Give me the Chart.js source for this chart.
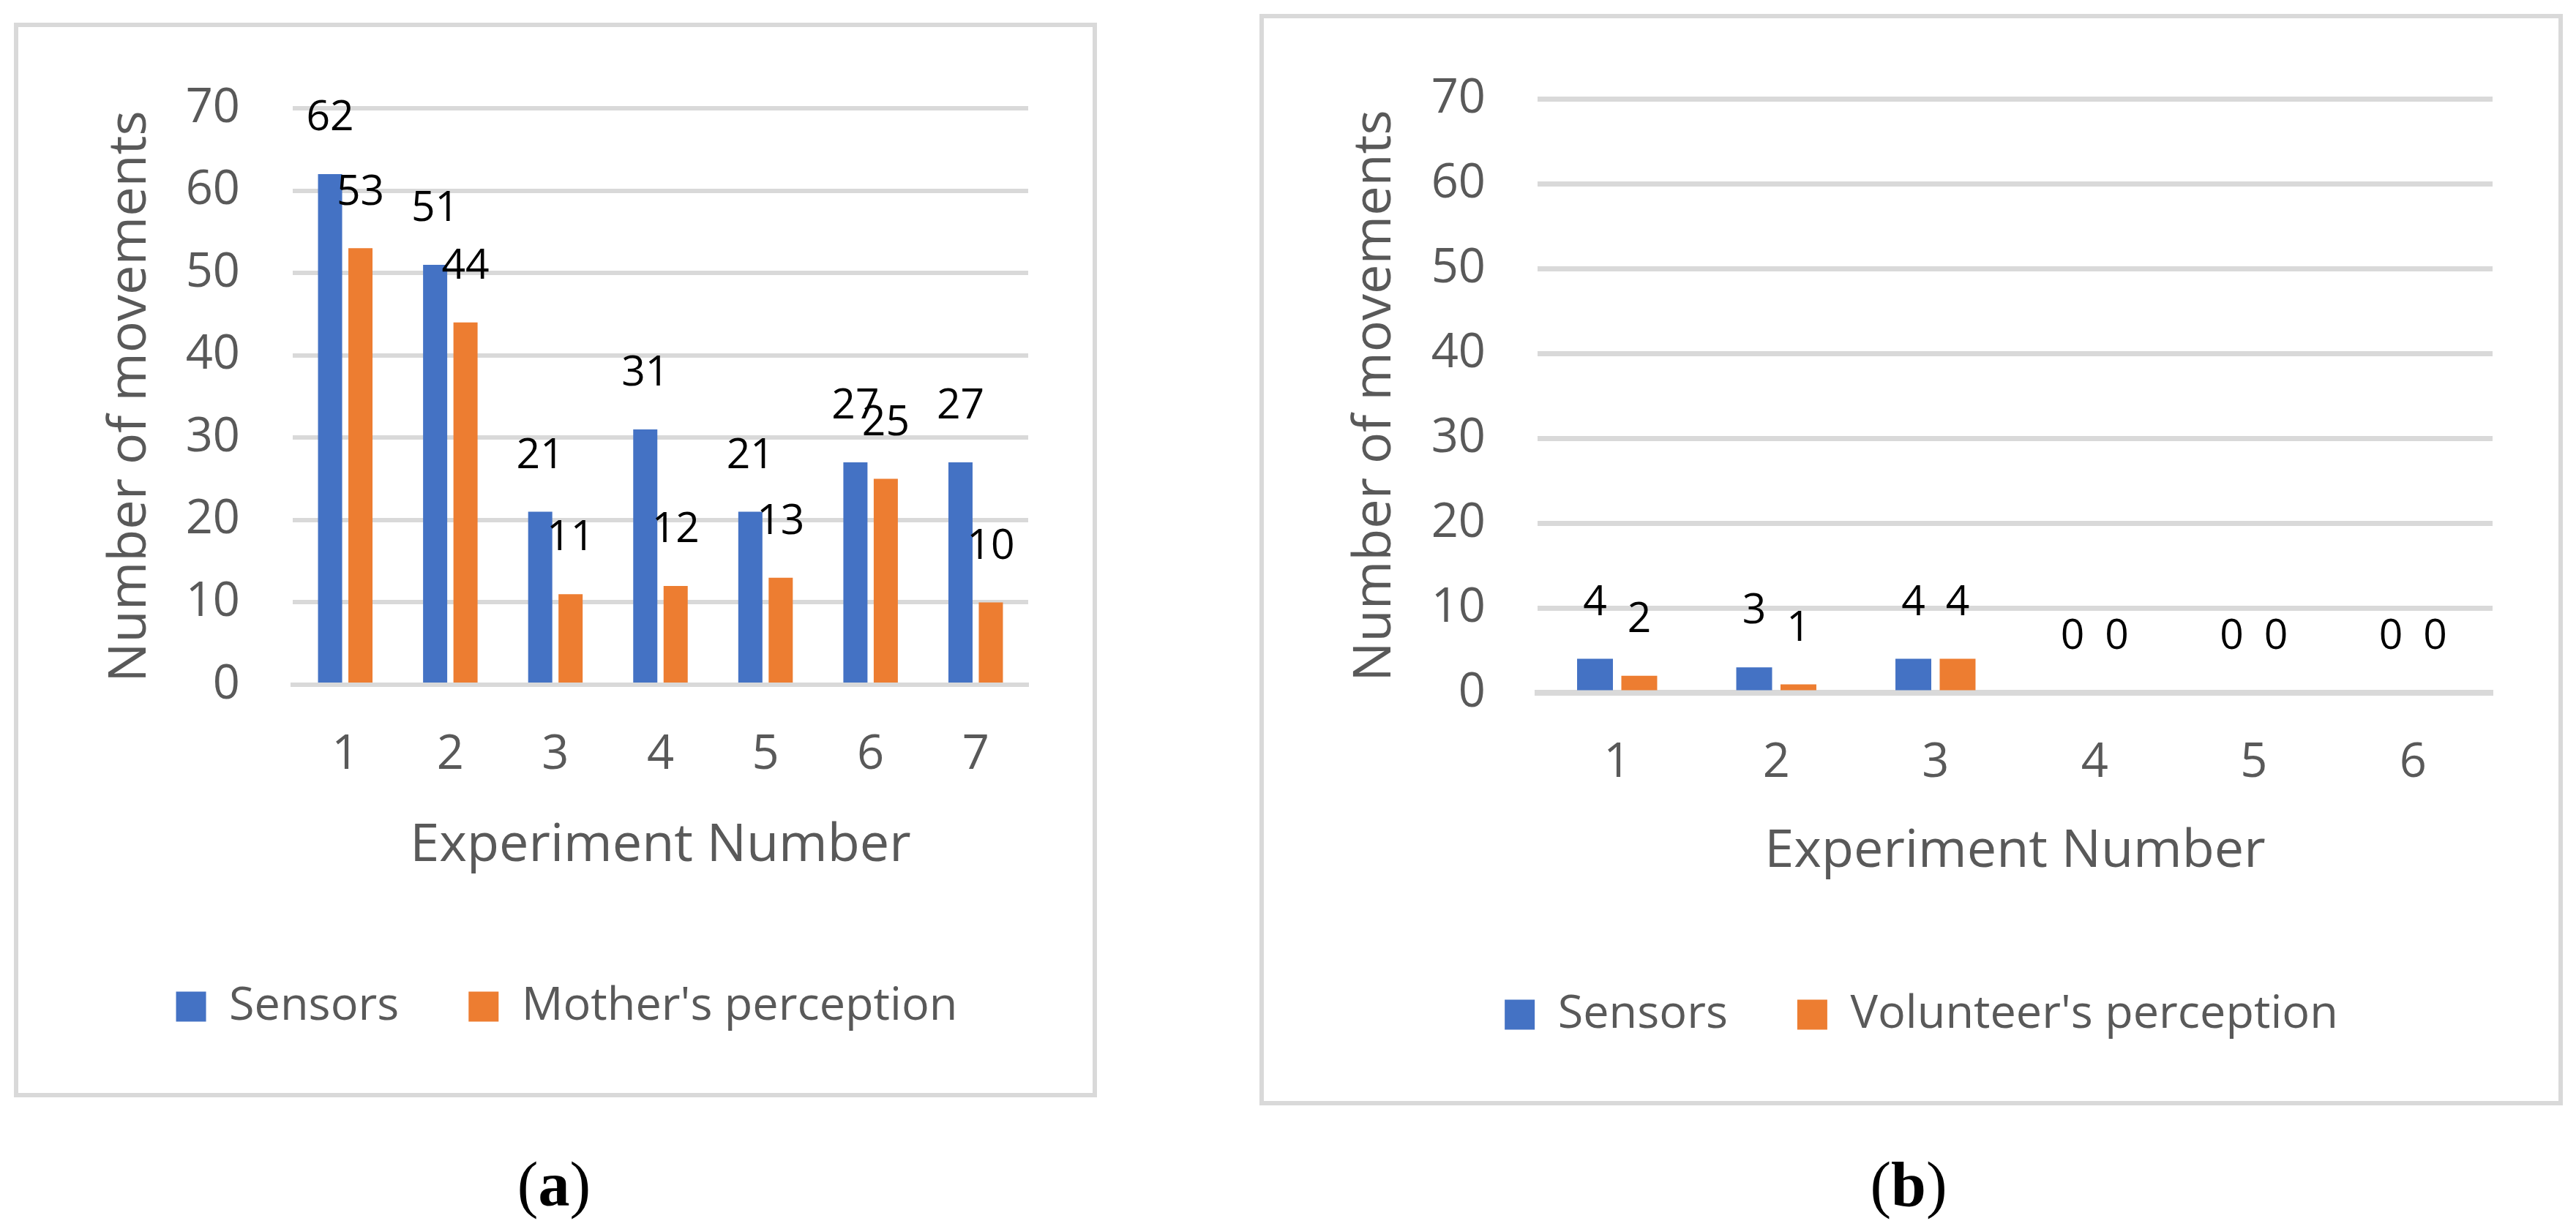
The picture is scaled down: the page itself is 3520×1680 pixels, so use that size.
<!DOCTYPE html>
<html>
<head>
<meta charset="utf-8">
<script src="https://cdn.jsdelivr.net/npm/chart.js@4.4.0/dist/chart.umd.min.js"></script>
<style>
  html, body { margin: 0; padding: 0; background: #fff; }
  body { width: 3520px; height: 1680px; position: relative; overflow: hidden; }
  .panel { position: absolute; box-sizing: border-box; border: 6px solid #d9d9d9; background: #fff; }
  #panelA { left: 19px; top: 31px; width: 1480px; height: 1469px; }
  #panelB { left: 1721px; top: 19px; width: 1781px; height: 1492px; }
  .panel canvas { display: block; }
  .caption { position: absolute; top: 1576px; font-family: "Liberation Serif", serif; font-size: 86px; line-height: 86px; color: #000; transform: translateX(-50%); }
</style>
</head>
<body>
<div class="panel" id="panelA"><canvas id="chartA" width="1468" height="1457"></canvas></div>
<div class="panel" id="panelB"><canvas id="chartB" width="1769" height="1480"></canvas></div>
<div class="caption" style="left:757px">(<b>a</b>)</div>
<div class="caption" style="left:2608px">(<b>b</b>)</div>

<script>
// chart (a)
const experimentsA = ['1', '2', '3', '4', '5', '6', '7'];
const sensorsA = [62, 51, 21, 31, 21, 27, 27];
const motherA = [53, 44, 11, 12, 13, 25, 10];

// chart (b)
const experimentsB = ['1', '2', '3', '4', '5', '6'];
const sensorsB = [4, 3, 4, 0, 0, 0];
const volunteerB = [2, 1, 4, 0, 0, 0];

const yMin = 0, yMax = 70, yStep = 10;

const BLUE = '#4472C4';
const ORANGE = '#ED7D31';
const GRID = '#D9D9D9';
const TEXT = '#595959';
const FONT = '"Open Sans", sans-serif';

// numbers above the bars
const valueLabels = {
  id: 'valueLabels',
  afterDatasetsDraw(chart) {
    const ctx = chart.ctx;
    ctx.save();
    ctx.font = '57px ' + FONT;
    ctx.fillStyle = '#000';
    ctx.textAlign = 'center';
    ctx.textBaseline = 'middle';
    chart.data.datasets.forEach((ds, i) => {
      chart.getDatasetMeta(i).data.forEach((bar, j) => {
        ctx.fillText(String(ds.data[j]), bar.x, bar.y - 76);
      });
    });
    ctx.restore();
  }
};

function makeChart(id, labels, first, second, secondName, g) {
  return new Chart(document.getElementById(id), {
    type: 'bar',
    data: {
      labels: labels,
      datasets: [
        { label: 'Sensors', data: first, backgroundColor: BLUE, borderWidth: 0,
          categoryPercentage: g.cat, barPercentage: g.bar },
        { label: secondName, data: second, backgroundColor: ORANGE, borderWidth: 0,
          categoryPercentage: g.cat, barPercentage: g.bar }
      ]
    },
    options: {
      responsive: false,
      animation: false,
      devicePixelRatio: 1,
      layout: { padding: { left: g.padL, right: g.padR, top: 88, bottom: 76.5 } },
      plugins: {
        legend: {
          position: 'bottom',
          labels: { font: { family: FONT, size: 63 }, color: TEXT, boxWidth: 41, boxHeight: 41, padding: 95 }
        },
        tooltip: { enabled: false }
      },
      scales: {
        x: {
          grid: { display: false, drawTicks: false },
          border: { display: true, color: GRID, width: g.base },
          ticks: { font: { family: FONT, size: 65 }, color: TEXT, padding: 57 },
          title: { display: true, text: 'Experiment Number', color: TEXT,
                   font: { family: FONT, size: 72 }, padding: { top: 0, bottom: g.xTitlePad } },
          afterFit(scale) { scale.height = 313.5; }
        },
        y: {
          min: yMin, max: yMax,
          ticks: { stepSize: yStep, font: { family: FONT, size: 65 }, color: TEXT, padding: g.yTickPad },
          grid: { color: GRID, lineWidth: g.grid, drawTicks: false },
          border: { display: false },
          title: { display: true, text: 'Number of movements', color: TEXT,
                   font: { family: FONT, size: 72 }, padding: { top: -9.2, bottom: 0 } },
          afterFit(scale) { scale.width = 256; }
        }
      }
    },
    plugins: [valueLabels]
  });
}

makeChart('chartA', experimentsA, sensorsA, motherA, "Mother's perception",
  { cat: 0.578, bar: 0.795, padL: 119, padR: 88, base: 6, grid: 6, xTitlePad: 50.3, yTickPad: 72 });

makeChart('chartB', experimentsB, sensorsB, volunteerB, "Volunteer's perception",
  { cat: 0.556, bar: 0.81, padL: 118, padR: 90, base: 8, grid: 7, xTitlePad: 53.3, yTickPad: 71 });
</script>
</body>
</html>
